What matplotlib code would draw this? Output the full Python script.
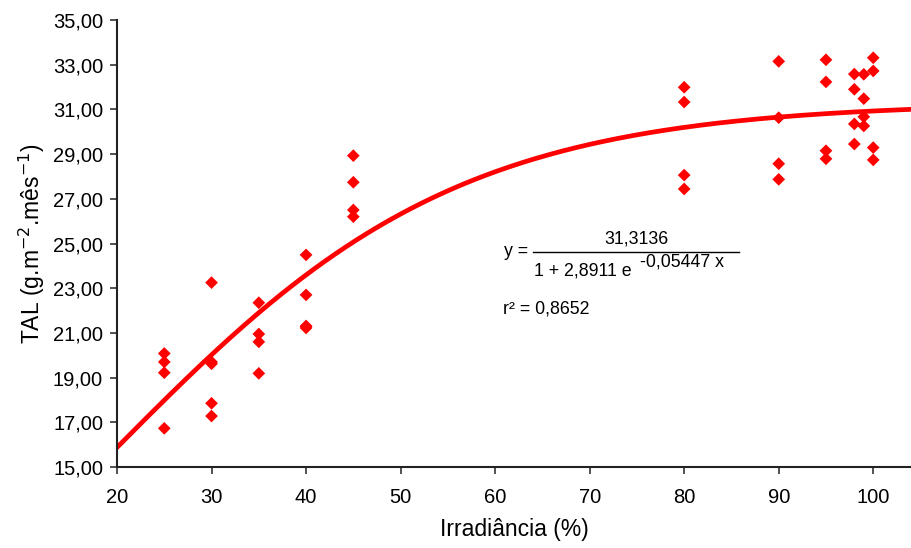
import numpy as np
import matplotlib
matplotlib.use("Agg")
import matplotlib.pyplot as plt

plt.rcParams['font.family'] = ['Liberation Sans', 'DejaVu Sans']

# observed points (irradiance %, TAL)
irr = [25, 25, 25, 25,
       30, 30, 30, 30, 30,
       35, 35, 35, 35,
       40, 40, 40, 40, 40,
       45, 45, 45, 45,
       80, 80, 80, 80,
       90, 90, 90, 90,
       95, 95, 95, 95,
       98, 98, 98, 98,
       99, 99, 99, 99,
       100, 100, 100, 100]
tal = [20.08, 19.70, 19.22, 16.73,
       23.25, 19.70, 19.62, 17.85, 17.28,
       22.35, 20.95, 20.60, 19.19,
       24.49, 22.70, 21.31, 21.22, 21.28,
       28.93, 27.74, 26.50, 26.20,
       31.99, 31.33, 28.06, 27.44,
       33.15, 30.63, 28.57, 27.87,
       33.22, 32.23, 29.15, 28.79,
       32.58, 31.90, 30.35, 29.45,
       32.57, 31.48, 30.67, 30.26,
       33.31, 32.72, 29.29, 28.74]

# logistic fit parameters shown on the chart
a, b, c = 31.3136, 2.8911, 0.05447

fig = plt.figure(figsize=(9.12, 5.48), dpi=100)
ax = fig.add_axes([0.1283, 0.1478, 0.8717, 0.8157])

xs = np.linspace(20, 105, 300)
ax.plot(xs, a / (1 + b * np.exp(-c * xs)), color='#ff0000', lw=3.4, zorder=2)
ax.scatter(irr, tal, marker='D', s=42, color='#ff0000', edgecolors='none', zorder=3)

ax.set_xlim(20, 104.1)
ax.set_ylim(15, 35)
ax.set_xticks(np.arange(20, 101, 10))
ax.set_yticks(np.arange(15, 35.1, 2))
ax.set_yticklabels([f"{v:.2f}".replace('.', ',') for v in np.arange(15, 35.1, 2)])

for s in ['top', 'right']:
    ax.spines[s].set_visible(False)
for s in ['left', 'bottom']:
    ax.spines[s].set_color('#222222')
    ax.spines[s].set_linewidth(1.5)
ax.tick_params(axis='both', direction='out', length=5, width=1.2, color='#333333',
               labelsize=14.5)
ax.tick_params(axis='x', pad=10)
ax.tick_params(axis='y', pad=5)

ax.set_xlabel('Irradiância (%)', fontsize=16.5, labelpad=8)
ax.set_ylabel('TAL (g.m$^{-2}$.mês$^{-1}$)', fontsize=16.5, labelpad=4)

# equation
fs = 12.8
fig.text(504 / 912, 1 - 252 / 548, 'y =', fontsize=fs, va='center', ha='left')
fig.add_artist(plt.Line2D([533 / 912, 739 / 912], [1 - 252 / 548] * 2, color='black', lw=1))
fig.text(636 / 912, 1 - 239 / 548, '31,3136', fontsize=fs, va='center', ha='center')
fig.text(534 / 912, 1 - 271 / 548, '1 + 2,8911 e', fontsize=fs, va='center', ha='left')
fig.text(640 / 912, 1 - 262 / 548, '-0,05447 x', fontsize=fs, va='center', ha='left')
fig.text(503 / 912, 1 - 309 / 548, 'r² = 0,8652', fontsize=fs, va='center', ha='left')

fig.savefig('out.png', dpi=100)
